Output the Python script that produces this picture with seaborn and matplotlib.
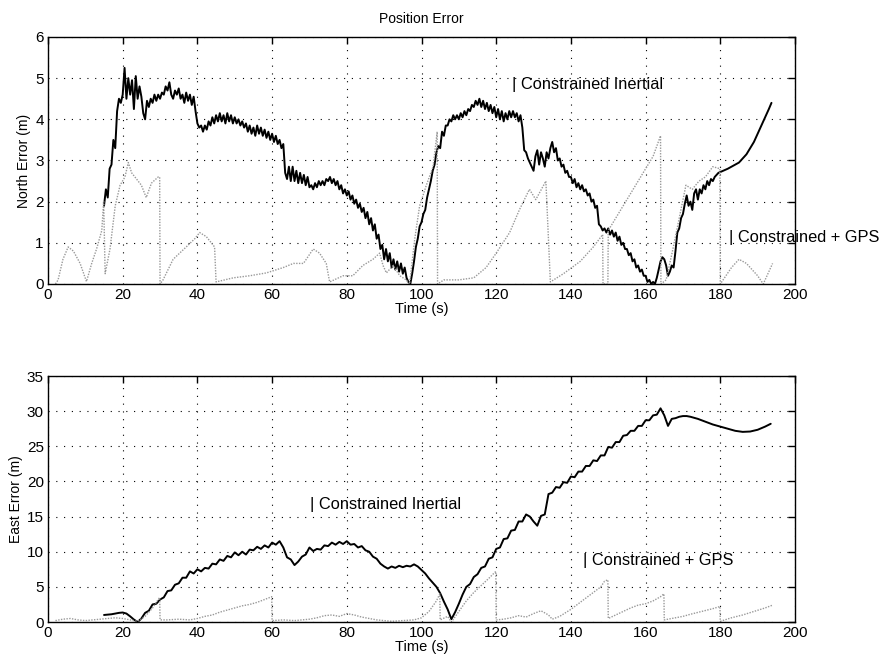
import numpy as np
import pandas as pd
import matplotlib
matplotlib.use("Agg")
import matplotlib.pyplot as plt
import seaborn as sns

# ---------------- North error ----------------
# Constrained inertial solution, sampled every 0.5 s from 15 s to 179.5 s
north_ins_t0 = 15.0
north_ins_vals = [
    1.9, 2.3, 2.1, 2.8, 2.9, 3.5, 3.3, 4.2, 4.5, 4.4,        # 15
    4.6, 5.25, 4.5, 5.0, 4.6, 4.95, 4.25, 5.05, 4.5, 4.8,    # 20
    4.55, 4.15, 4.0, 4.45, 4.3, 4.5, 4.4, 4.6, 4.45, 4.6,    # 25
    4.5, 4.65, 4.6, 4.8, 4.7, 4.9, 4.6, 4.5, 4.7, 4.6,       # 30
    4.75, 4.5, 4.6, 4.4, 4.65, 4.45, 4.6, 4.35, 4.55, 4.2,   # 35
    3.9, 3.8, 3.85, 3.7, 3.85, 3.75, 3.95, 3.85, 4.05, 3.9,  # 40
    4.1, 3.95, 4.15, 3.95, 4.1, 3.9, 4.15, 3.95, 4.1, 3.9,   # 45
    4.05, 3.9, 4.0, 3.85, 3.95, 3.8, 3.9, 3.7, 3.85, 3.65,   # 50
    3.8, 3.6, 3.85, 3.65, 3.8, 3.6, 3.75, 3.55, 3.7, 3.5,    # 55
    3.65, 3.45, 3.6, 3.4, 3.5, 3.3, 3.4, 2.7, 2.55, 2.85,    # 60
    2.5, 2.85, 2.5, 2.75, 2.45, 2.7, 2.45, 2.65, 2.4, 2.6,   # 65
    2.35, 2.4, 2.3, 2.45, 2.35, 2.5, 2.4, 2.5, 2.4, 2.55,    # 70
    2.5, 2.6, 2.45, 2.55, 2.4, 2.5, 2.3, 2.4, 2.2, 2.3,      # 75
    2.15, 2.25, 2.05, 2.15, 1.95, 2.05, 1.85, 1.95, 1.75, 1.85,  # 80
    1.6, 1.75, 1.45, 1.6, 1.3, 1.45, 1.1, 1.2, 0.85, 0.95,   # 85
    0.6, 0.85, 0.55, 0.75, 0.4, 0.6, 0.35, 0.55, 0.3, 0.5,   # 90
    0.25, 0.4, 0.15, 0.05, 0.0, 0.25, 0.55, 0.9, 1.1, 1.4,   # 95
    1.5, 1.7, 1.8, 2.1, 2.3, 2.5, 2.75, 2.9, 3.2, 3.35,      # 100
    3.3, 3.7, 3.6, 3.85, 3.85, 4.0, 3.95, 4.1, 4.0, 4.1,     # 105
    4.0, 4.15, 4.05, 4.2, 4.1, 4.25, 4.2, 4.35, 4.3, 4.45,   # 110
    4.35, 4.5, 4.3, 4.45, 4.25, 4.4, 4.2, 4.35, 4.15, 4.3,   # 115
    4.05, 4.25, 4.0, 4.2, 3.95, 4.15, 4.0, 4.2, 4.05, 4.2,   # 120
    4.05, 4.15, 3.95, 4.1, 3.8, 3.25, 3.2, 3.05, 2.95, 2.85, # 125
    2.75, 3.1, 3.25, 2.9, 3.2, 3.05, 2.85, 3.2, 3.05, 3.3,   # 130
    3.45, 3.2, 3.3, 3.0, 3.05, 2.85, 2.9, 2.7, 2.75, 2.6,    # 135
    2.6, 2.45, 2.55, 2.35, 2.45, 2.3, 2.4, 2.25, 2.3, 2.15,  # 140
    2.2, 2.0, 2.05, 1.85, 1.9, 1.45, 1.4, 1.3, 1.35, 1.25,   # 145
    1.35, 1.2, 1.3, 1.15, 1.25, 1.05, 1.15, 0.95, 1.0, 0.85, # 150
    0.85, 0.7, 0.75, 0.55, 0.6, 0.4, 0.45, 0.3, 0.35, 0.2,   # 155
    0.2, 0.05, 0.1, 0.0, 0.05, 0.0, 0.15, 0.35, 0.55, 0.65,  # 160
    0.6, 0.45, 0.2, 0.3, 0.45, 0.4, 0.8, 1.25, 1.35, 1.6,    # 165
    1.7, 1.95, 2.15, 1.9, 2.0, 1.8, 2.2, 2.3, 2.05, 2.3,     # 170
    2.2, 2.4, 2.3, 2.5, 2.4, 2.55, 2.5, 2.6, 2.65, 2.7,      # 175
]
# smooth coast after the last GPS-aided interval
north_ins_tail_t = [180, 181, 182, 183, 184, 185, 186, 187, 188, 189, 190, 191, 192, 193, 193.7]
north_ins_tail_v = [2.72, 2.76, 2.8, 2.85, 2.9, 2.95, 3.05, 3.15, 3.3, 3.45, 3.65, 3.85, 4.05, 4.25, 4.4]

# Constrained + GPS solution
north_gps_t = [2.0, 2.7, 4.0, 5.4, 6.8, 8.6, 10.3, 11.7, 13.0, 14.4, 14.9, 15.3, 16.6, 18.0,
               19.3, 20.6, 21.5, 22.4, 23.7, 25.0, 26.3, 27.7, 29.5, 29.9, 30.0, 30.8, 33.5,
               37.0, 39.3, 40.6, 42.4, 44.6, 45.0, 49.6, 54.0, 58.5, 63.0, 65.7, 68.4, 71.0,
               72.7, 74.5, 75.4, 79.0, 81.6, 84.3, 87.0, 88.8, 89.7, 90.6, 92.4, 94.2, 95.9,
               96.8, 98.2, 99.5, 101.3, 103.1, 104.2, 104.3, 106.0, 110.0, 114.0, 117.3, 120.0,
               123.6, 126.2, 128.9, 130.6, 133.3, 134.5, 138.0, 142.5, 146.0, 148.5, 148.6,
               149.9, 150.0, 152.0, 154.0, 156.0, 158.0, 160.0, 162.0, 164.0, 164.1, 165.5,
               167.2, 169.0, 170.8, 172.5, 174.3, 176.0, 178.0, 179.9, 180.0, 183.0, 185.0,
               187.0, 190.0, 191.5, 193.0, 194.0]
north_gps_v = [0.0, 0.1, 0.6, 0.9, 0.8, 0.5, 0.06, 0.5, 0.85, 1.3, 2.0, 0.25, 0.85, 1.9,
               2.4, 2.6, 2.95, 2.7, 2.55, 2.4, 2.1, 2.45, 2.6, 2.6, 0.0, 0.1, 0.6,
               0.9, 1.1, 1.25, 1.15, 0.9, 0.05, 0.15, 0.2, 0.27, 0.4, 0.5, 0.5, 0.85,
               0.75, 0.5, 0.05, 0.2, 0.2, 0.45, 0.6, 0.75, 0.45, 0.27, 0.45, 0.2, 0.1,
               0.0, 1.1, 1.9, 2.4, 2.85, 3.7, 0.0, 0.1, 0.1, 0.15, 0.4, 0.75,
               1.25, 1.8, 2.3, 2.05, 2.5, 0.05, 0.25, 0.55, 0.9, 1.2, 0.0,
               0.0, 1.3, 1.6, 1.9, 2.2, 2.5, 2.8, 3.1, 3.6, 0.0, 0.1,
               0.8, 1.6, 2.4, 2.3, 2.5, 2.6, 2.85, 2.8, 0.0, 0.4, 0.6,
               0.5, 0.2, 0.0, 0.3, 0.5]

# ---------------- East error ----------------
east_ins_t = [15, 16, 17, 18, 19, 20, 21, 22, 23] + list(range(24, 166)) + \
             [166, 167, 168, 169, 170, 171, 172, 174, 176, 178, 180, 182, 184, 186, 188, 190, 192, 193.5]
east_ins_v = [1.0, 1.05, 1.1, 1.2, 1.3, 1.35, 1.2, 0.8, 0.35,
              0.0, 0.5, 1.3, 1.6, 2.5, 2.6, 3.2, 3.5, 4.4, 4.5,          # 24-33
              5.3, 5.5, 6.3, 6.3, 7.2, 6.9, 7.5, 7.2, 7.7, 7.6,          # 34-43
              8.3, 8.2, 8.9, 8.7, 9.4, 9.2, 9.9, 9.5, 10.0, 9.6,         # 44-53
              10.3, 10.2, 10.7, 10.4, 10.9, 10.6, 11.3, 11.0, 11.5, 10.6,  # 54-63
              9.2, 8.9, 8.1, 8.6, 9.3, 9.6, 10.6, 10.1, 10.4, 10.3,      # 64-73
              10.9, 10.8, 11.3, 11.0, 11.4, 11.1, 11.5, 11.0, 11.1, 10.6,  # 74-83
              10.8, 10.2, 10.0, 9.3, 9.0, 8.3, 7.9, 7.6, 7.9, 7.7,       # 84-93
              8.0, 7.8, 8.0, 7.9, 8.2, 7.9, 7.4, 6.9, 6.2, 5.6,          # 94-103
              5.0, 4.1, 2.9, 1.8, 0.4, 1.4, 2.6, 3.9, 5.0, 5.4,          # 104-113
              6.4, 6.8, 7.7, 7.9, 9.0, 9.2, 10.4, 10.6, 11.8, 11.9,      # 114-123
              13.0, 13.1, 14.3, 14.3, 15.3, 15.0, 14.3, 13.7, 15.1, 15.3,  # 124-133
              18.2, 18.4, 19.2, 19.1, 19.9, 19.8, 20.7, 20.6, 21.4, 21.4,  # 134-143
              22.2, 22.2, 23.0, 22.9, 23.7, 23.7, 24.9, 24.8, 25.6, 25.6,  # 144-153
              26.5, 26.6, 27.2, 27.2, 27.9, 27.9, 28.7, 28.7, 29.4, 29.5,  # 154-163
              30.4, 29.4,                                                   # 164-165
              27.9, 28.9, 29.0, 29.2, 29.3, 29.3, 29.2, 28.9, 28.5, 28.1,
              27.8, 27.5, 27.2, 27.05, 27.1, 27.35, 27.8, 28.2]

east_gps_t = [2, 4, 6, 8, 10, 12, 14, 16, 18, 20, 22, 24, 26, 28, 29, 29.9, 30, 32, 35, 38,
              40, 42, 44, 46, 48, 50, 52, 54, 56, 58, 59.9, 60, 63, 66, 70, 72, 74, 76, 78,
              80, 82, 84, 86, 88, 90, 92, 95, 98, 100, 102, 104, 104.9, 105, 107, 108, 110,
              112, 114, 116, 118, 119.9, 120, 122, 124, 126, 128, 130, 132, 134, 135, 137,
              140, 142, 144, 146, 148, 149, 149.9, 150, 152, 154, 156, 158, 160, 162, 164,
              164.9, 165, 167, 170, 172, 175, 178, 179.9, 180, 183, 186, 189, 192, 194]
east_gps_v = [0.2, 0.4, 0.5, 0.3, 0.2, 0.3, 0.4, 0.5, 0.6, 0.5, 0.3, 0.1, 0.8, 2.0, 2.8, 3.5,
              0.3, 0.3, 0.4, 0.3, 0.5, 0.8, 1.0, 1.4, 1.7, 2.0, 2.3, 2.5, 2.8, 3.2, 3.6, 0.2,
              0.3, 0.2, 0.4, 0.6, 0.9, 1.0, 0.8, 1.2, 1.0, 0.7, 0.5, 0.3, 0.2, 0.1, 0.2, 0.3,
              0.6, 1.5, 3.0, 4.0, 0.3, 0.8, 0.0, 1.5, 3.0, 4.2, 5.2, 6.2, 7.2, 0.3, 0.4, 0.6,
              0.9, 0.7, 1.2, 1.6, 1.0, 0.4, 0.8, 1.8, 2.6, 3.4, 4.2, 5.0, 5.8, 6.0, 0.5, 1.0,
              1.5, 2.0, 2.4, 2.6, 3.0, 3.6, 4.0, 0.3, 0.5, 0.8, 1.1, 1.5, 1.9, 2.2, 0.1, 0.6,
              1.0, 1.5, 2.0, 2.4]

x_ticks = list(range(0, 201, 20))
north_ticks = list(range(0, 7))
east_ticks = list(range(0, 36, 5))

# ---------------- assemble tables ----------------
north_ins_t = [north_ins_t0 + 0.5 * i for i in range(len(north_ins_vals))] + north_ins_tail_t
north_ins = pd.DataFrame({"t": north_ins_t, "err": north_ins_vals + north_ins_tail_v})
north_gps = pd.DataFrame({"t": north_gps_t, "err": north_gps_v})
east_ins = pd.DataFrame({"t": east_ins_t, "err": east_ins_v})
east_gps = pd.DataFrame({"t": east_gps_t, "err": east_gps_v})

sns.set_style("white")
plt.rcParams["font.family"] = ["Liberation Sans", "DejaVu Sans"]
plt.rcParams["text.color"] = "black"
plt.rcParams["axes.labelcolor"] = "black"
plt.rcParams["axes.titlecolor"] = "black"

fig = plt.figure(figsize=(8.86, 6.66), dpi=100)
W, H = 886, 666
ax1 = fig.add_axes([48 / W, 1 - 284 / H, 747 / W, 247 / H])
ax2 = fig.add_axes([48 / W, 1 - 622 / H, 747 / W, 246 / H])

ins_kw = dict(color="black", linewidth=1.4, estimator=None, sort=False, legend=False)
gps_kw = dict(color="0.6", linewidth=1.0, linestyle=(0, (1, 1)), estimator=None,
              sort=False, legend=False)

sns.lineplot(data=north_ins, x="t", y="err", ax=ax1, **ins_kw)
sns.lineplot(data=north_gps, x="t", y="err", ax=ax1, **gps_kw)
sns.lineplot(data=east_ins, x="t", y="err", ax=ax2, **ins_kw)
sns.lineplot(data=east_gps, x="t", y="err", ax=ax2, **gps_kw)

for ax, yt, ymax, ylab in [(ax1, north_ticks, 6, "North Error (m)"),
                           (ax2, east_ticks, 35, "East Error (m)")]:
    ax.set_xlim(0, 200)
    ax.set_ylim(0, ymax)
    ax.set_xticks(x_ticks)
    ax.set_yticks(yt)
    ax.grid(True, color="black", linestyle=(0, (1, 6)), linewidth=0.8)
    ax.tick_params(direction="in", top=True, right=True, length=5, width=1,
                   labelsize=11, colors="black", pad=3)
    for s in ax.spines.values():
        s.set_color("black")
        s.set_linewidth(1.0)
        s.set_visible(True)
    ax.set_xlabel("Time (s)", fontsize=10.5, labelpad=0, color="black")
    ax.set_ylabel(ylab, fontsize=10, labelpad=3, color="black")

ax1.set_title("Position Error", fontsize=10, pad=10, color="black")

lab_kw = dict(fontsize=11.8, va="center", ha="left", color="black")
ax1.text(124.1, 4.84, "| Constrained Inertial", **lab_kw)
ax1.text(182.3, 1.12, "| Constrained + GPS", **lab_kw)
ax2.text(70.2, 16.65, "| Constrained Inertial", **lab_kw)
ax2.text(143.2, 8.73, "| Constrained + GPS", **lab_kw)

fig.savefig("out.png", dpi=100)
